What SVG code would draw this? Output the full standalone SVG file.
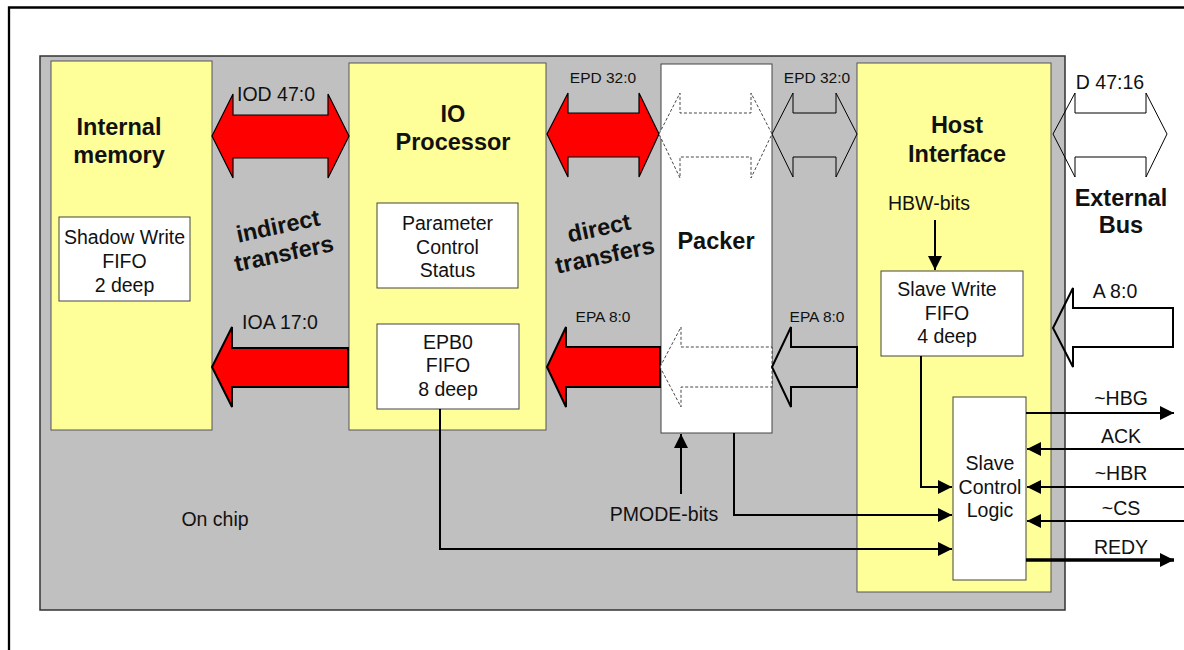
<svg xmlns="http://www.w3.org/2000/svg" width="1184" height="650" viewBox="0 0 1184 650">
<style>
text{font-family:"Liberation Sans",Arial,sans-serif;fill:#111}
.t{font-size:19.5px;text-anchor:middle}
.s{font-size:15.5px;text-anchor:middle}
.b{font-size:23.5px;font-weight:bold;text-anchor:middle}
.yel{fill:#FFFF99;stroke:#555;stroke-width:1}
.box{fill:#fff;stroke:#444;stroke-width:1}
.wire{fill:none;stroke:#000;stroke-width:2}
.red{fill:#FF0000;stroke:#000;stroke-width:1.2;stroke-linejoin:miter}
.out{fill:none;stroke:#000;stroke-width:1}
.dot{fill:#fff;stroke:#333;stroke-width:0.9;stroke-dasharray:3 2}
</style>
<defs>
<marker id="ah" markerWidth="14" markerHeight="14" refX="14" refY="7" orient="auto" markerUnits="userSpaceOnUse"><path d="M0,0 L14,7 L0,14 z" fill="#000"/></marker>
</defs>
<path d="M9,650 V7.5 H1184" fill="none" stroke="#000" stroke-width="2.3"/>
<g id="chip">
<rect x="40" y="56" width="1025" height="554" fill="#C0C0C0" stroke="#333" stroke-width="1.5"/>
<text class="t" x="215" y="526">On chip</text>
</g>
<g id="internal-memory">
<rect class="yel" x="51" y="61" width="161" height="369"/>
<text class="b" x="119" y="135">Internal</text>
<text class="b" x="119" y="163">memory</text>
<rect class="box" x="59" y="217" width="131" height="84"/>
<text class="t" x="124.5" y="244">Shadow Write</text>
<text class="t" x="124.5" y="268">FIFO</text>
<text class="t" x="124.5" y="292">2 deep</text>
</g>
<g id="io-processor">
<rect class="yel" x="349" y="63" width="197" height="367"/>
<text class="b" x="453" y="122">IO</text>
<text class="b" x="453" y="150">Processor</text>
<rect class="box" x="377" y="203" width="141" height="85"/>
<text class="t" x="447.5" y="230">Parameter</text>
<text class="t" x="447.5" y="254">Control</text>
<text class="t" x="447.5" y="277">Status</text>
<rect class="box" x="377" y="324" width="142" height="85"/>
<text class="t" x="448" y="349">EPB0</text>
<text class="t" x="448" y="372">FIFO</text>
<text class="t" x="448" y="396">8 deep</text>
</g>
<g id="packer">
<rect class="box" x="661" y="64" width="111" height="369"/>
<text class="b" x="716" y="249">Packer</text>
</g>
<g id="host-interface">
<rect class="yel" x="857" y="63" width="194" height="529"/>
<text class="b" x="957" y="133">Host</text>
<text class="b" x="957" y="162">Interface</text>
<text class="t" x="929" y="210">HBW-bits</text>
<rect class="box" x="881" y="271" width="142" height="85"/>
<text class="t" x="947" y="296">Slave Write</text>
<text class="t" x="947" y="320">FIFO</text>
<text class="t" x="947" y="343">4 deep</text>
</g>
<g id="slave-control-logic">
<rect class="box" x="953" y="397" width="73" height="183"/>
<text class="t" x="990" y="470">Slave</text>
<text class="t" x="990" y="494">Control</text>
<text class="t" x="990" y="517">Logic</text>
</g>
<g id="external-bus">
<text class="b" x="1121" y="206">External</text>
<text class="b" x="1121" y="233">Bus</text>
</g>
<g id="transfer-labels">
<g transform="translate(278,226) rotate(-12)">
<text class="b" x="0" y="8">indirect</text>
<text class="b" x="0" y="36">transfers</text>
</g>
<g transform="translate(599,228) rotate(-12)">
<text class="b" x="0" y="8">direct</text>
<text class="b" x="0" y="36">transfers</text>
</g>
</g>
<g id="connectors">
<path class="red" d="M212,136 L233,94 V115 H328 V94 L349,136 L328,178 V158 H233 V178 Z"/>
<text class="t" x="276" y="101">IOD 47:0</text>
<path class="red" d="M547,134 L568,93 V113 H639 V93 L659,134 L639,177 V157 H568 V177 Z"/>
<text class="s" x="603" y="83">EPD 32:0</text>
<path class="dot" d="M659,134 L680,93 V113 H751 V93 L772,134 L751,178 V157 H680 V178 Z"/>
<path class="out" d="M772,134 L793,93 V113 H836 V93 L857,134 L836,177 V157 H793 V177 Z"/>
<text class="s" x="817" y="83">EPD 32:0</text>
<path class="out" d="M1053,134 L1075,93 V113 H1146 V93 L1167,134 L1146,177 V157 H1075 V177 Z"/>
<text class="t" x="1110" y="89">D 47:16</text>
<path class="red" style="stroke-width:2" d="M212,367 L232,327 V348 H348 V387 H232 V407 Z"/>
<text class="t" x="280" y="329">IOA 17:0</text>
<path class="red" style="stroke-width:2" d="M547,367 L566,327 V347 H660 V387 H566 V407 Z"/>
<text class="s" x="603" y="322">EPA 8:0</text>
<path class="dot" d="M660,367 L681,327 V347 H772 V387 H681 V407 Z"/>
<path class="out" style="stroke-width:2" d="M772,367 L791,327 V347 H857 V387 H791 V407 Z"/>
<text class="s" x="817" y="322">EPA 8:0</text>
<path class="out" style="stroke-width:2" d="M1053,328 L1073,288 V308 H1173 V347 H1073 V367 Z"/>
<text class="t" x="1115" y="298">A 8:0</text>
<path class="wire" d="M935,220 V270" marker-end="url(#ah)"/>
<path class="wire" d="M681,494 V434" marker-end="url(#ah)"/>
<text class="t" x="664" y="521">PMODE-bits</text>
<path class="wire" d="M921,356 V487 H952" marker-end="url(#ah)"/>
<path class="wire" d="M734,433 V515 H952" marker-end="url(#ah)"/>
<path class="wire" d="M440,409 V549 H952" marker-end="url(#ah)"/>
<path class="wire" d="M1026,413 H1174" marker-end="url(#ah)"/>
<text class="t" x="1121" y="405">~HBG</text>
<path class="wire" d="M1184,449 H1027" marker-end="url(#ah)"/>
<text class="t" x="1121" y="443">ACK</text>
<path class="wire" d="M1184,487 H1027" marker-end="url(#ah)"/>
<text class="t" x="1121" y="480">~HBR</text>
<path class="wire" d="M1184,521 H1027" marker-end="url(#ah)"/>
<text class="t" x="1121" y="515">~CS</text>
<path class="wire" style="stroke-width:3.5" d="M1026,560 H1174" marker-end="url(#ah)"/>
<text class="t" x="1121" y="554">REDY</text>
</g>
</svg>
